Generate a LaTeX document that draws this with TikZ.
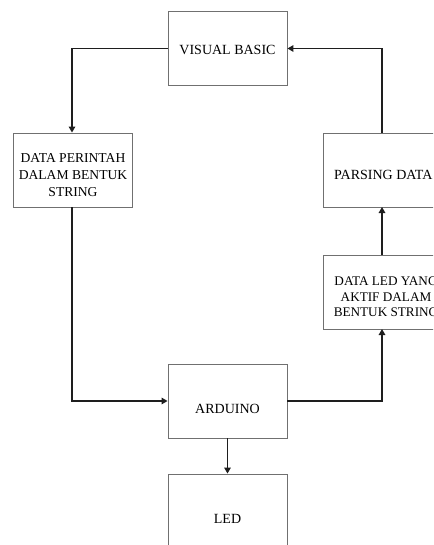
\documentclass[tikz,border=0pt]{standalone}
\usepackage{fontspec}
\setmainfont{Liberation Serif}
\usetikzlibrary{arrows.meta}
\definecolor{boxline}{HTML}{707070}
\definecolor{conn}{HTML}{1E1E1E}
\tikzset{
  blockbox/.style={draw=boxline, line width=0.9pt, rectangle, inner sep=0pt, minimum width=119pt, minimum height=74pt},
  txt/.style={align=center, inner sep=0pt, text=black, font=\fontsize{14}{17}\selectfont},
  txtdp/.style={align=center, inner sep=0pt, text=black, font=\fontsize{13.6}{17}\selectfont},
  txtsmall/.style={align=center, inner sep=0pt, text=black, font=\fontsize{13.2}{15.5}\selectfont},
  conn/.style={draw=conn, line width=1.4pt},
  arr/.style={conn, -{Triangle[length=6pt,width=6.5pt]}},
}
\begin{document}
\begin{tikzpicture}[x=1pt,y=-1pt]
\useasboundingbox (0,0) rectangle (433,545);
\clip (0,0) rectangle (433,545);
\fill[white] (0,0) rectangle (433,545);
% boxes
\node[blockbox] (vb) at (227.5,48.5) {};
\node[blockbox] (dp) at (73,170) {};
\node[blockbox, minimum width=126pt] (ps) at (386,170) {};
\node[blockbox, minimum width=126pt] (dl) at (386,292) {};
\node[blockbox] (ar) at (227.5,401) {};
\node[blockbox] (led) at (227.5,511) {};
% texts
\node[txt] (tvb) at ([yshift=-1pt]vb.center) {VISUAL BASIC};
\node[txtdp] (tdp) at ([yshift=-5pt]dp.center) {DATA PERINTAH\\DALAM BENTUK\\STRING};
\node[txt, anchor=west] (tps) at (334,175) {PARSING DATA};
\node[txtsmall] (tdl) at (386,297) {DATA LED YANG\\AKTIF DALAM\\BENTUK STRING};
\node[txt] (tar) at ([yshift=-8pt]ar.center) {ARDUINO};
\node[txt] (tled) at (227.5,519) {LED};
% connectors
\coordinate (psb) at (382,207);
\coordinate (dlt) at (382,255);
\coordinate (dlb) at (382,329);
\coordinate (pst) at (382,133);
\draw[arr] (vb.west) -| ([xshift=-1pt]dp.north);
\draw[arr] ([xshift=-1pt]dp.south) |- (ar.west);
\draw[arr] (ar.east) -| (dlb);
\draw[arr] (dlt) -- (psb);
\draw[arr] (pst) |- (vb.east);
\draw[arr] (ar.south) -- (led.north);
\end{tikzpicture}
\end{document}
